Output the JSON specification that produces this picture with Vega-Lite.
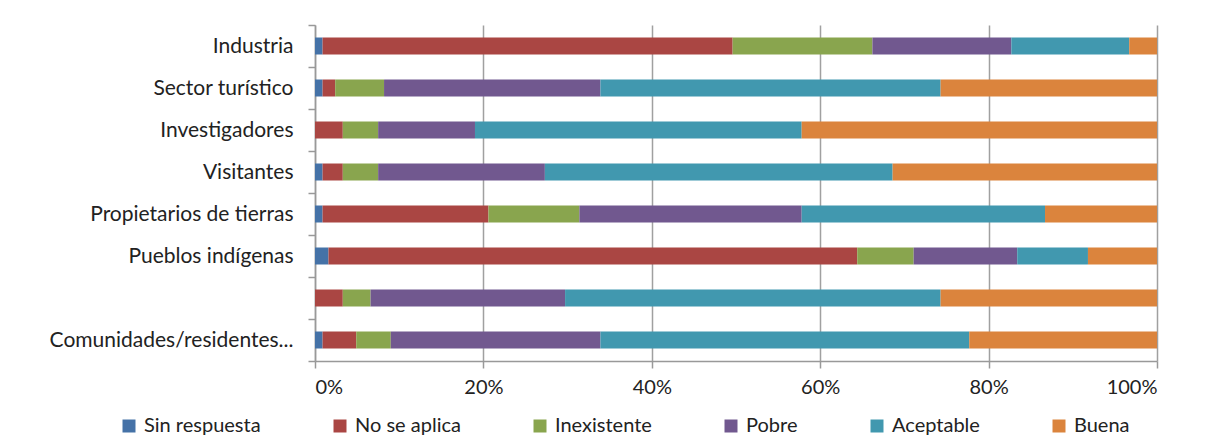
{
  "$schema": "https://vega.github.io/schema/vega-lite/v6.json",
  "width": 842,
  "height": 336,
  "padding": {"left": 49, "top": 14, "right": 5, "bottom": 0},
  "background": "white",
  "config": {
    "font": "Lato",
    "view": {"stroke": null},
    "axis": {"labelFont": "Lato", "labelColor": "#222"}
  },
  "data": {
    "values": [
      {"cat": "Industria", "resp": "Sin respuesta", "n": 1, "v": 0.9},
      {"cat": "Industria", "resp": "No se aplica", "n": 2, "v": 48.7},
      {"cat": "Industria", "resp": "Inexistente", "n": 3, "v": 16.6},
      {"cat": "Industria", "resp": "Pobre", "n": 4, "v": 16.5},
      {"cat": "Industria", "resp": "Aceptable", "n": 5, "v": 14.0},
      {"cat": "Industria", "resp": "Buena", "n": 6, "v": 3.3},
      {"cat": "Sector turístico", "resp": "Sin respuesta", "n": 1, "v": 0.9},
      {"cat": "Sector turístico", "resp": "No se aplica", "n": 2, "v": 1.5},
      {"cat": "Sector turístico", "resp": "Inexistente", "n": 3, "v": 5.8},
      {"cat": "Sector turístico", "resp": "Pobre", "n": 4, "v": 25.7},
      {"cat": "Sector turístico", "resp": "Aceptable", "n": 5, "v": 40.4},
      {"cat": "Sector turístico", "resp": "Buena", "n": 6, "v": 25.7},
      {"cat": "Investigadores", "resp": "Sin respuesta", "n": 1, "v": 0},
      {"cat": "Investigadores", "resp": "No se aplica", "n": 2, "v": 3.3},
      {"cat": "Investigadores", "resp": "Inexistente", "n": 3, "v": 4.2},
      {"cat": "Investigadores", "resp": "Pobre", "n": 4, "v": 11.5},
      {"cat": "Investigadores", "resp": "Aceptable", "n": 5, "v": 38.8},
      {"cat": "Investigadores", "resp": "Buena", "n": 6, "v": 42.2},
      {"cat": "Visitantes", "resp": "Sin respuesta", "n": 1, "v": 0.9},
      {"cat": "Visitantes", "resp": "No se aplica", "n": 2, "v": 2.4},
      {"cat": "Visitantes", "resp": "Inexistente", "n": 3, "v": 4.2},
      {"cat": "Visitantes", "resp": "Pobre", "n": 4, "v": 19.8},
      {"cat": "Visitantes", "resp": "Aceptable", "n": 5, "v": 41.3},
      {"cat": "Visitantes", "resp": "Buena", "n": 6, "v": 31.4},
      {"cat": "Propietarios de tierras", "resp": "Sin respuesta", "n": 1, "v": 0.9},
      {"cat": "Propietarios de tierras", "resp": "No se aplica", "n": 2, "v": 19.7},
      {"cat": "Propietarios de tierras", "resp": "Inexistente", "n": 3, "v": 10.8},
      {"cat": "Propietarios de tierras", "resp": "Pobre", "n": 4, "v": 26.4},
      {"cat": "Propietarios de tierras", "resp": "Aceptable", "n": 5, "v": 28.9},
      {"cat": "Propietarios de tierras", "resp": "Buena", "n": 6, "v": 13.3},
      {"cat": "Pueblos indígenas", "resp": "Sin respuesta", "n": 1, "v": 1.6},
      {"cat": "Pueblos indígenas", "resp": "No se aplica", "n": 2, "v": 62.8},
      {"cat": "Pueblos indígenas", "resp": "Inexistente", "n": 3, "v": 6.7},
      {"cat": "Pueblos indígenas", "resp": "Pobre", "n": 4, "v": 12.3},
      {"cat": "Pueblos indígenas", "resp": "Aceptable", "n": 5, "v": 8.4},
      {"cat": "Pueblos indígenas", "resp": "Buena", "n": 6, "v": 8.2},
      {"cat": " ", "resp": "Sin respuesta", "n": 1, "v": 0},
      {"cat": " ", "resp": "No se aplica", "n": 2, "v": 3.3},
      {"cat": " ", "resp": "Inexistente", "n": 3, "v": 3.3},
      {"cat": " ", "resp": "Pobre", "n": 4, "v": 23.1},
      {"cat": " ", "resp": "Aceptable", "n": 5, "v": 44.6},
      {"cat": " ", "resp": "Buena", "n": 6, "v": 25.7},
      {"cat": "Comunidades/residentes...", "resp": "Sin respuesta", "n": 1, "v": 0.9},
      {"cat": "Comunidades/residentes...", "resp": "No se aplica", "n": 2, "v": 4.0},
      {"cat": "Comunidades/residentes...", "resp": "Inexistente", "n": 3, "v": 4.1},
      {"cat": "Comunidades/residentes...", "resp": "Pobre", "n": 4, "v": 24.9},
      {"cat": "Comunidades/residentes...", "resp": "Aceptable", "n": 5, "v": 43.8},
      {"cat": "Comunidades/residentes...", "resp": "Buena", "n": 6, "v": 22.3}
    ]
  },
  "mark": {"type": "bar", "size": 17},
  "encoding": {
    "y": {
      "field": "cat",
      "type": "nominal",
      "sort": ["Industria", "Sector turístico", "Investigadores", "Visitantes", "Propietarios de tierras", "Pueblos indígenas", " ", "Comunidades/residentes..."],
      "scale": {"paddingInner": 0, "paddingOuter": 0},
      "axis": {
        "title": null,
        "tickBand": "extent",
        "tickSize": 7,
        "tickColor": "#999",
        "domainColor": "#999",
        "domainWidth": 1.5,
        "tickWidth": 1.5,
        "labelPadding": 15,
        "labelFontSize": 21,
        "labelLimit": 0,
        "grid": false
      }
    },
    "x": {
      "field": "v",
      "type": "quantitative",
      "stack": "normalize",
      "scale": {"domain": [0, 1], "nice": false},
      "axis": {
        "title": null,
        "values": [0, 0.2, 0.4, 0.6, 0.8, 1],
        "format": ".0%",
        "grid": true,
        "gridColor": "#a0a0a0",
        "gridWidth": 1.5,
        "domainColor": "#999",
        "domainWidth": 1.5,
        "tickColor": "#999",
        "tickWidth": 1.5,
        "tickSize": 7,
        "labelFontSize": 20,
        "labelPadding": 9
      }
    },
    "color": {
      "field": "resp",
      "type": "nominal",
      "scale": {
        "domain": ["Sin respuesta", "No se aplica", "Inexistente", "Pobre", "Aceptable", "Buena"],
        "range": ["#4572A7", "#AA4643", "#89A54E", "#71588F", "#4198AF", "#DB843D"]
      },
      "legend": {
        "title": null,
        "orient": "none",
        "legendX": -196,
        "legendY": 391,
        "direction": "horizontal",
        "symbolType": "square",
        "symbolSize": 169,
        "symbolStrokeWidth": 0,
        "labelFont": "Lato",
        "labelFontSize": 20,
        "labelColor": "#222",
        "columnPadding": 69,
        "labelOffset": 5
      }
    },
    "order": {"field": "n"}
  }
}
